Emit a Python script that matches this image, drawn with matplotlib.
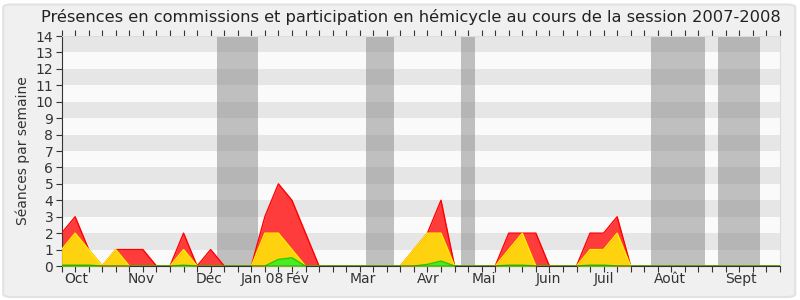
import numpy as np
import matplotlib.pyplot as plt
from matplotlib.patches import FancyBboxPatch

# weekly values, session 2007-2008 (week 0 = start of October)
red = [2, 3, 1, 0, 1, 1, 1, 0, 0, 2, 0, 1, 0, 0, 0, 3, 5, 4, 2, 0,
       0, 0, 0, 0, 0, 0, 1, 2, 4, 0, 0, 0, 0, 2, 2, 2, 0, 0, 0, 2,
       2, 3, 0, 0, 0, 0, 0, 0, 0, 0, 0, 0, 0, 0]
yellow = [1, 2, 1, 0, 1, 0, 0, 0, 0, 1, 0, 0, 0, 0, 0, 2, 2, 1, 0, 0,
          0, 0, 0, 0, 0, 0, 1, 2, 2, 0, 0, 0, 0, 1, 2, 0, 0, 0, 0, 1,
          1, 2, 0, 0, 0, 0, 0, 0, 0, 0, 0, 0, 0, 0]
green = [0.05, 0.05, 0.05, 0, 0, 0, 0, 0, 0, 0.05, 0, 0, 0, 0, 0, 0, 0.4, 0.5, 0, 0,
         0, 0, 0, 0, 0, 0, 0, 0.1, 0.3, 0, 0, 0, 0, 0.05, 0.05, 0, 0, 0, 0, 0.05,
         0.05, 0, 0, 0, 0, 0, 0, 0, 0, 0, 0, 0, 0, 0]

# holiday periods (in weeks)
holidays = [(11.46, 14.46), (22.46, 24.5), (29.47, 30.5), (43.49, 47.5), (48.44, 51.54)]

months = ['Oct', 'Nov', 'Déc', 'Jan 08', 'Fév', 'Mar', 'Avr', 'Mai', 'Juin', 'Juil', 'Août', 'Sept']
month_pos = [1.1, 5.9, 10.9, 14.8, 17.45, 22.2, 27.03, 31.2, 35.9, 40.03, 44.9, 50.1]

weeks = np.arange(len(red))

fig = plt.figure(figsize=(8, 3), dpi=100)
fig.patch.set_facecolor('white')
bg = FancyBboxPatch((0.004, 0.01), 0.99, 0.975, boxstyle='round,pad=0,rounding_size=0.01',
                    transform=fig.transFigure, facecolor='#f0f0f0', edgecolor='#e2e2e2',
                    linewidth=1.5, zorder=-10)
fig.patches.append(bg)

ax = fig.add_axes([0.077, 0.1133, 0.8977, 0.7667])
ax.set_facecolor('#fafafa')

for k in range(14):
    if k % 2 == 1:
        ax.axhspan(k, k + 1, color='#e6e6e6', lw=0, zorder=0)

for a, b in holidays:
    ax.axvspan(a, b, color='#808080', alpha=0.48, lw=0, zorder=1)

ax.fill_between(weeks, red, color='#ff3c3c', lw=0, zorder=2)
ax.plot(weeks, red, color='#ff0000', lw=1, zorder=3)
ax.fill_between(weeks, yellow, color='#ffd20f', lw=0, zorder=4)
ax.plot(weeks, yellow, color='#ffee00', lw=1, zorder=5)
ax.fill_between(weeks, green, color='#44ee22', lw=0, zorder=6)
ax.plot(weeks, green, color='#22cc00', lw=1, zorder=7)
ax.axhline(0, color='#660000', lw=1, zorder=8)

ax.set_xlim(0, 53)
ax.set_ylim(0, 14)
ax.set_yticks(range(15))
ax.set_xticks(range(54))
ax.set_xticklabels([])
ax.set_xticks(month_pos, minor=True)
ax.set_xticklabels(months, minor=True)
ax.tick_params(axis='x', which='major', length=4, color='#333333', top=True, direction='out')
ax.tick_params(axis='x', which='minor', length=0, pad=4, labelsize=10, labelcolor='#333333')
ax.tick_params(axis='y', length=4, color='#333333', labelsize=10, labelcolor='#333333', pad=2)

for side in ['top', 'right']:
    ax.spines[side].set_color('#dddddd')
for side in ['left', 'bottom']:
    ax.spines[side].set_color('#333333')

ax.set_ylabel('Séances par semaine', fontsize=10, color='#333333', labelpad=4)
fig.text(0.514, 0.943, 'Présences en commissions et participation en hémicycle au cours de la session 2007-2008',
         ha='center', va='center', fontsize=11.7, color='#222222')

plt.savefig('out.png', dpi=100, facecolor=fig.get_facecolor())
